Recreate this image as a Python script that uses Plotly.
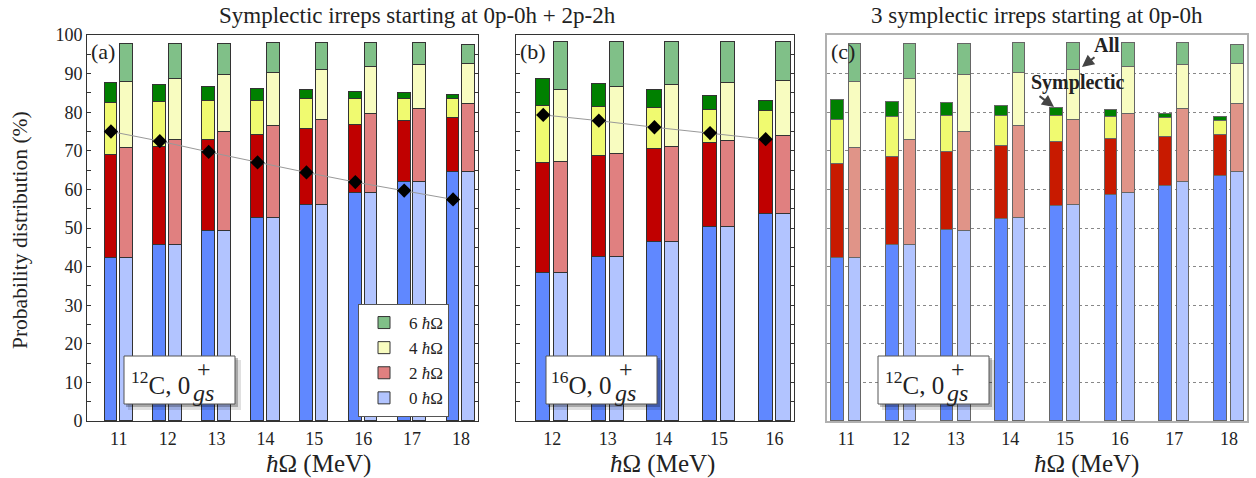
import plotly.graph_objects as go

# ---------------- data ----------------
hw_a = [11, 12, 13, 14, 15, 16, 17, 18]
a_sym_0 = [42.2, 45.7, 49.1, 52.5, 55.9, 59.0, 61.8, 64.4]
a_sym_2 = [26.8, 25.3, 23.6, 21.6, 19.7, 17.7, 16.0, 14.2]
a_sym_4 = [13.3, 11.6, 10.2, 8.9, 7.7, 6.6, 5.6, 4.8]
a_sym_6 = [5.2, 4.5, 3.6, 3.1, 2.4, 1.9, 1.5, 1.0]
a_all_0 = [42.2, 45.7, 49.1, 52.5, 55.9, 59.0, 61.8, 64.4]
a_all_2 = [28.6, 27.2, 25.8, 23.9, 22.1, 20.6, 19.0, 17.7]
a_all_4 = [17.0, 15.7, 14.7, 13.8, 12.9, 12.0, 11.4, 10.5]
a_all_6 = [9.8, 9.0, 8.0, 7.6, 6.9, 6.2, 5.7, 4.8]
a_diamond = [75.0, 72.5, 69.7, 67.0, 64.4, 61.9, 59.7, 57.4]

hw_b = [12, 13, 14, 15, 16]
b_sym_0 = [38.4, 42.6, 46.4, 50.2, 53.7]
b_sym_2 = [28.4, 26.1, 24.1, 21.7, 19.2]
b_sym_4 = [14.7, 12.6, 10.6, 8.8, 7.4]
b_sym_6 = [7.0, 5.9, 4.6, 3.6, 2.7]
b_all_0 = [38.4, 42.6, 46.4, 50.2, 53.7]
b_all_2 = [28.7, 26.6, 24.7, 22.4, 20.1]
b_all_4 = [18.6, 17.3, 15.9, 14.9, 14.2]
b_all_6 = [12.6, 11.8, 11.3, 10.8, 10.1]
b_diamond = [79.3, 77.8, 76.1, 74.6, 73.0]

hw_c = [11, 12, 13, 14, 15, 16, 17, 18]
c_sym_0 = [42.3, 45.7, 49.4, 52.4, 55.6, 58.5, 60.9, 63.5]
c_sym_2 = [24.2, 22.6, 20.4, 18.8, 16.7, 14.6, 12.8, 10.5]
c_sym_4 = [11.6, 10.4, 9.3, 7.9, 6.8, 5.6, 4.7, 3.8]
c_sym_6 = [5.1, 4.0, 3.2, 2.6, 1.9, 1.8, 1.1, 1.0]
c_all_0 = a_all_0
c_all_2 = a_all_2
c_all_4 = a_all_4
c_all_6 = a_all_6

levels = ["0 <i>ħ</i>Ω", "2 <i>ħ</i>Ω", "4 <i>ħ</i>Ω", "6 <i>ħ</i>Ω"]

# ---------------- style ----------------
W, H = 1256, 478
ML, MR, MT, MB = 87, 9, 35, 57
PW, PH = W - ML - MR, H - MT - MB
FONT = "Liberation Serif"
TXT = "#222222"

def px(p):
    return (p - ML) / PW

def py(p):
    return (H - MB - p) / PH

sym_cols_ab = ["#6088FF", "#C00000", "#F0FA70", "#008000"]
all_cols_ab = ["#B2C4FF", "#E08080", "#F8FCC0", "#80C088"]
sym_cols_c = ["#6088FF", "#C81A00", "#F0FA70", "#008000"]
all_cols_c = ["#B2C4FF", "#E09488", "#F8FCC0", "#80C088"]

OFF = 0.16
fig = go.Figure()

def add_panel(hw, sym, allv, xa, ya, scol, acol, lcol, width, legend):
    for k in range(4):
        fig.add_trace(go.Bar(
            x=[h - OFF for h in hw], y=sym[k], width=width,
            marker=dict(color=scol[k], line=dict(color=lcol, width=1)),
            xaxis=xa, yaxis=ya, showlegend=False, name=levels[k]))
    for k in range(4):
        fig.add_trace(go.Bar(
            x=[h + OFF for h in hw], y=allv[k], width=width,
            marker=dict(color=acol[k], line=dict(color=lcol, width=1)),
            xaxis=xa, yaxis=ya, showlegend=legend, name=levels[k],
            legendrank=10 - k))

add_panel(hw_a, [a_sym_0, a_sym_2, a_sym_4, a_sym_6],
          [a_all_0, a_all_2, a_all_4, a_all_6], "x", "y",
          sym_cols_ab, all_cols_ab, "#333333", 0.26, True)
add_panel(hw_b, [b_sym_0, b_sym_2, b_sym_4, b_sym_6],
          [b_all_0, b_all_2, b_all_4, b_all_6], "x2", "y2",
          sym_cols_ab, all_cols_ab, "#333333", 0.255, False)
add_panel(hw_c, [c_sym_0, c_sym_2, c_sym_4, c_sym_6],
          [c_all_0, c_all_2, c_all_4, c_all_6], "x3", "y3",
          sym_cols_c, all_cols_c, "#666666", 0.23, False)

fig.add_trace(go.Scatter(
    x=[h - OFF for h in hw_a], y=a_diamond, mode="lines+markers",
    line=dict(color="#999999", width=1),
    marker=dict(symbol="diamond", size=11, color="black"),
    xaxis="x", yaxis="y", showlegend=False))
fig.add_trace(go.Scatter(
    x=[h - OFF for h in hw_b], y=b_diamond, mode="lines+markers",
    line=dict(color="#999999", width=1),
    marker=dict(symbol="diamond", size=11, color="black"),
    xaxis="x2", yaxis="y2", showlegend=False))

tick5 = list(range(0, 101, 5))
ylab = [str(v) if v % 10 == 0 else "" for v in tick5]

frame = dict(showline=True, linecolor="#333333", linewidth=1, mirror="ticks",
             zeroline=False, showgrid=False, automargin=False)
xcommon = dict(ticks="", tickfont=dict(size=18, family=FONT, color=TXT),
               ticklabelstandoff=1)

fig.update_layout(
    width=W, height=H, margin=dict(l=ML, r=MR, t=MT, b=MB, autoexpand=False),
    barmode="stack", bargap=0, plot_bgcolor="white", paper_bgcolor="white",
    font=dict(family=FONT, color=TXT),
    xaxis=dict(domain=[px(87), px(478)], range=[10.35, 18.35], tickvals=hw_a,
               anchor="y", **frame, **xcommon),
    yaxis=dict(domain=[0, 1], range=[0, 100], tickvals=tick5, ticktext=ylab,
               ticks="inside", ticklen=4, tickcolor="#333", anchor="x",
               tickfont=dict(size=18, family=FONT, color=TXT), **frame),
    xaxis2=dict(domain=[px(516), px(794)], range=[11.35, 16.35], tickvals=hw_b,
                anchor="y2", **frame, **xcommon),
    yaxis2=dict(domain=[0, 1], range=[0, 100], tickvals=tick5, ticktext=ylab,
                ticks="inside", ticklen=4, tickcolor="#333", anchor="x2",
                showticklabels=False, **frame),
    xaxis3=dict(domain=[px(827), px(1247)], range=[10.645, 18.33], tickvals=hw_c,
                anchor="y3", showline=True, linecolor="#b0b0b0", linewidth=1.5,
                mirror=True, zeroline=False, showgrid=False, automargin=False,
                **xcommon),
    yaxis3=dict(domain=[0, 1], range=[0, 100], dtick=10, anchor="x3",
                showline=True, linecolor="#b0b0b0", linewidth=1.5, mirror=True,
                zeroline=False, showgrid=True, gridcolor="#888888",
                griddash="dot", gridwidth=1, showticklabels=False, ticks="",
                automargin=False),
    legend=dict(x=px(358), y=py(304), xanchor="left", yanchor="top",
                bgcolor="white", bordercolor="#555555", borderwidth=1,
                font=dict(size=17, family=FONT, color=TXT),
                traceorder="normal", tracegroupgap=0, itemwidth=40),
)

ann = []
shapes = []

def text_ann(text, x, y, size, xanchor="center", yanchor="middle", angle=0):
    ann.append(dict(text=text, x=px(x), y=py(y), xref="paper", yref="paper",
                    xanchor=xanchor, yanchor=yanchor, showarrow=False,
                    textangle=angle, font=dict(size=size, family=FONT, color=TXT)))

# titles
text_ann("Symplectic irreps starting at 0p-0h + 2p-2h", 217, 15, 23, xanchor="left")
text_ann("3 symplectic irreps starting at 0p-0h", 1037, 15, 23)
# axis titles
text_ann("Probability distribution (%)", 20, 230, 21.5, angle=-90)
for xc in [318, 662, 1086]:
    text_ann("<i>ħ</i>Ω (MeV)", xc, 464, 25)
# panel labels
for lab, xp in [("(a)", 89), ("(b)", 518), ("(c)", 829)]:
    text_ann(lab, xp, 37, 22, xanchor="left", yanchor="top")

# nucleus label boxes
def label_box(x0, iso, elem):
    x1 = x0 + 111
    y0, y1 = 356, 404
    shapes.append(dict(type="rect", xref="paper", yref="paper", layer="above",
                       x0=px(x0 + 4), x1=px(x1 + 6), y0=py(y0 + 4), y1=py(y1 + 6),
                       fillcolor="rgba(0,0,0,0.12)", line=dict(width=0)))
    shapes.append(dict(type="rect", xref="paper", yref="paper", layer="above",
                       x0=px(x0 + 2), x1=px(x1 + 3), y0=py(y0 + 2), y1=py(y1 + 3),
                       fillcolor="rgba(0,0,0,0.25)", line=dict(width=0)))
    shapes.append(dict(type="rect", xref="paper", yref="paper", layer="above",
                       x0=px(x0), x1=px(x1), y0=py(y0), y1=py(y1),
                       fillcolor="white", line=dict(color="#555555", width=1)))
    text_ann(f"<sup>{iso}</sup>{elem}, 0", x0 + 68, y0 + 27, 25, xanchor="right")
    text_ann("+", x0 + 80, y0 + 13, 24)
    text_ann("<i>gs</i>", x0 + 67, y0 + 37, 24, xanchor="left")

label_box(124, "12", "C")
label_box(546, "16", "O")
label_box(878, "12", "C")

# All / Symplectic annotations in panel (c)
ann.append(dict(text="<b>All</b>", x=px(1107), y=py(45), xref="paper", yref="paper",
                xanchor="center", yanchor="middle", showarrow=False,
                font=dict(size=20, family=FONT, color=TXT)))
ann.append(dict(text="<b>Symplectic</b>", x=px(1077), y=py(82), xref="paper", yref="paper",
                xanchor="center", yanchor="middle", showarrow=False,
                font=dict(size=20, family=FONT, color=TXT)))
for (tx, ty, hx, hy) in [(1096, 56, 1082, 67), (1038, 95, 1054, 107)]:
    ann.append(dict(text="", x=px(hx), y=py(hy), xref="paper", yref="paper",
                    ax=tx - hx, ay=ty - hy, axref="pixel", ayref="pixel",
                    showarrow=True, arrowhead=2, arrowsize=1.2, arrowwidth=2,
                    arrowcolor="#444444", startstandoff=0, standoff=0))

fig.update_layout(annotations=ann, shapes=shapes)
fig.write_html("out.html")
